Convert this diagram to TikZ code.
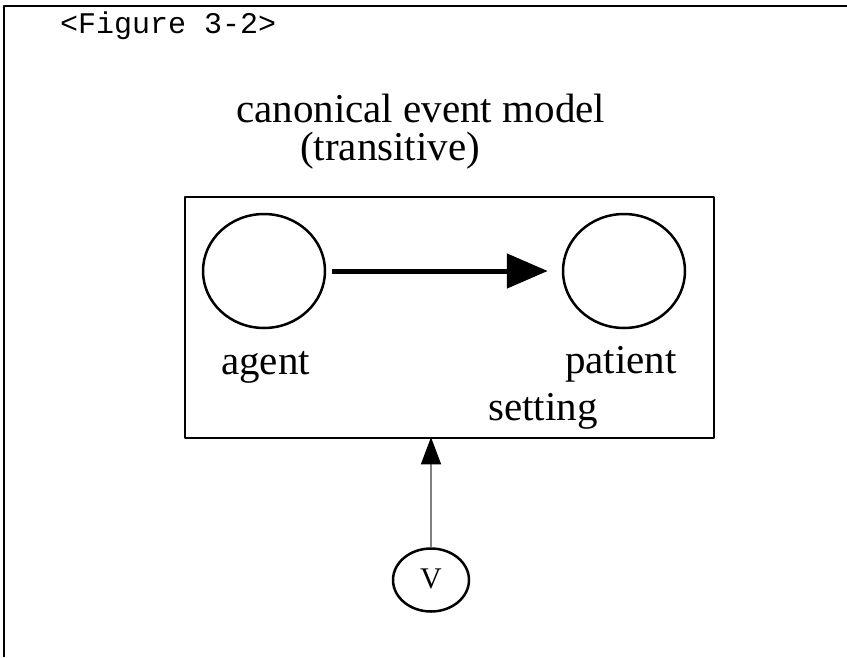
\documentclass[tikz,border=0pt]{standalone}
\usepackage{fontspec}
\setmainfont{Liberation Serif}
\setmonofont{Liberation Mono}
\usetikzlibrary{arrows.meta,shapes.geometric}
\begin{document}
\begin{tikzpicture}[x=1pt,y=-1pt, line join=round,
	txt/.style={anchor=base west, inner sep=0, font=\fontsize{41}{45}\selectfont},
	role/.style={draw, ellipse, line width=2.5pt, inner sep=0, minimum width=122pt, minimum height=114pt}]
\def\bl{185} \def\br{714} \def\bt{197} \def\bb{438} % setting box
\useasboundingbox (0,0) rectangle (847,657);
\draw[line width=2.5pt] (847,6) -| (4,657);
\node[anchor=base west, inner sep=0, font=\ttfamily\fontsize{30}{32}\selectfont] (fig) at (60,33) {<Figure 3-2>};
\node[txt] (title) at (236,122) {canonical event model};
\node[txt] (trans) at (300,160) {(transitive)};
\node[draw, line width=2.5pt, inner sep=0, minimum width=\br-\bl, minimum height=\bb-\bt] (setbox) at ({(\bl+\br)/2},{(\bt+\bb)/2}) {};
\node[role] (agent) at (264,271) {};
\node[role] (patient) at (624,271) {};
\node[txt] (agentlbl) at (221,374) {agent};
\node[txt] (patientlbl) at (565,373) {patient};
\node[txt] (setlbl) at (488,420) {setting};
\node[draw, ellipse, line width=2.5pt, inner sep=0, minimum width=76pt, minimum height=63pt] (v) at (431,580) {};
\node[anchor=base, inner sep=0, font=\fontsize{30}{32}\selectfont] (vlbl) at (431,588) {V};
\draw[line width=5pt, -{Triangle[length=41pt,width=34pt]}, shorten <=6pt, shorten >=14pt] (agent.east) -- (patient.west);
\draw[gray, line width=1.2pt, -{Triangle[length=27pt,width=20pt,color=black]}, shorten >=-2pt] (v.north) -- (v.north |- setbox.south);
\end{tikzpicture}
\end{document}
